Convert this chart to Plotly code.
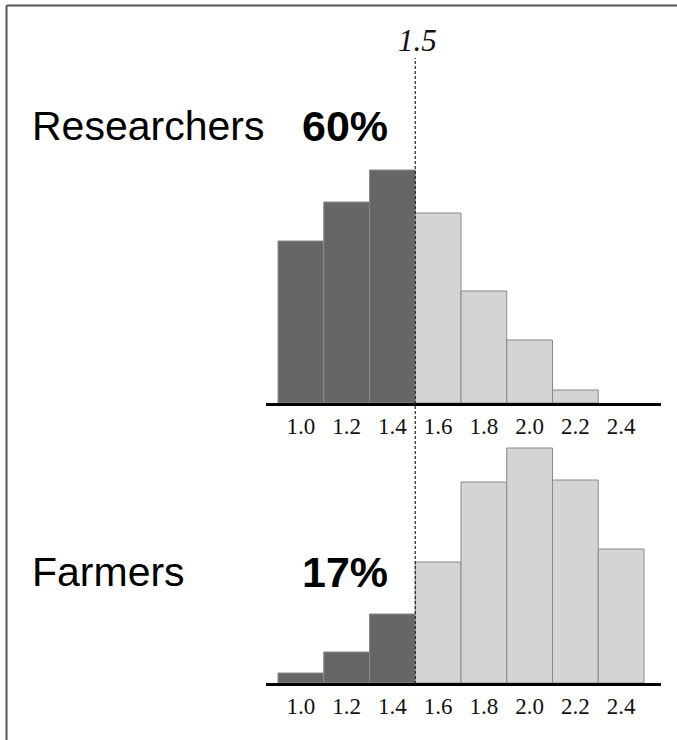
import plotly.graph_objects as go

# ---- data ----
bin_centers = [1.0, 1.2, 1.4, 1.6, 1.8, 2.0, 2.2, 2.4]
tick_labels = ["1.0", "1.2", "1.4", "1.6", "1.8", "2.0", "2.2", "2.4"]
researchers = [16.2, 20.1, 23.3, 19.0, 11.2, 6.3, 1.3, 0.0]
farmers = [1.0, 3.1, 6.9, 12.1, 20.1, 23.5, 20.3, 13.4]
threshold = 1.5
groups = ["Researchers", "Farmers"]
shares = ["60%", "17%"]

W, H = 677, 740
DARK = "#666666"
LIGHT = "#d4d4d4"
EDGE = "#8a8a8a"


def px_x(p):
    return p / W


def px_y(p):
    return 1 - p / H


fig = go.Figure()

for i, vals in enumerate([researchers, farmers]):
    colors = [DARK if c < threshold else LIGHT for c in bin_centers]
    edge_w = [0 if v == 0 else 1 for v in vals]
    fig.add_trace(go.Bar(
        x=bin_centers, y=vals, width=0.2,
        marker=dict(color=colors, line=dict(color=EDGE, width=edge_w)),
        xaxis="x" if i == 0 else "x2", yaxis="y" if i == 0 else "y2",
        showlegend=False, hoverinfo="skip",
    ))

xr = [0.9 - 12 / 228.75, 2.5 + 17 / 228.75]
xdom = [px_x(266), px_x(661)]
axis_common = dict(
    range=xr, domain=xdom, showline=True, linewidth=3, linecolor="black",
    showgrid=False, zeroline=False, ticks="", tickmode="array",
    tickvals=bin_centers, ticktext=tick_labels,
    tickfont=dict(family="Liberation Serif", size=23, color="#111"),
    ticklabelstandoff=0, fixedrange=True,
)
yaxis_common = dict(range=[0, 25], showline=False, showgrid=False,
                    zeroline=False, showticklabels=False, fixedrange=True)

fig.update_layout(
    width=W, height=H, margin=dict(l=0, r=0, t=0, b=0),
    paper_bgcolor="white", plot_bgcolor="white", bargap=0,
    xaxis=dict(anchor="y", **axis_common),
    yaxis=dict(domain=[px_y(403), px_y(153)], **yaxis_common),
    xaxis2=dict(anchor="y2", **axis_common),
    yaxis2=dict(domain=[px_y(683), px_y(433)], **yaxis_common),
)

# dashed threshold line
fig.add_shape(type="line", xref="x", yref="paper", x0=threshold, x1=threshold,
              y0=px_y(684), y1=px_y(58),
              line=dict(color="#222", width=1.2, dash="3px,2px"), layer="above")

# threshold label
fig.add_annotation(x=threshold + 0.01, xref="x", y=px_y(40), yref="paper",
                   text="1.5", showarrow=False, xanchor="center", yanchor="middle",
                   font=dict(family="Liberation Serif", size=31, color="#111",
                             style="italic"))

# group labels and shares
label_y = [126, 572]
for g, s, yy in zip(groups, shares, label_y):
    fig.add_annotation(x=px_x(30), xref="paper", y=px_y(yy), yref="paper",
                       text=g, showarrow=False, xanchor="left", yanchor="middle",
                       font=dict(family="Liberation Sans", size=41, color="black"))
    fig.add_annotation(x=px_x(345), xref="paper", y=px_y(yy), yref="paper",
                       text="<b>" + s + "</b>", showarrow=False, xanchor="center",
                       yanchor="middle",
                       font=dict(family="Liberation Sans", size=43, color="black"))

# frame (left and top edges)
fig.add_shape(type="line", xref="paper", yref="paper", x0=px_x(6.5), x1=px_x(6.5),
              y0=0, y1=px_y(5.5), line=dict(color="#555", width=2))
fig.add_shape(type="line", xref="paper", yref="paper", x0=px_x(6.5), x1=1,
              y0=px_y(5.5), y1=px_y(5.5), line=dict(color="#555", width=2))

fig.write_html(
    "out.html",
    config={"displayModeBar": False, "staticPlot": True},
    post_script=("document.body.style.margin='0';"
                 "document.body.style.overflow='hidden';"
                 "document.documentElement.style.overflow='hidden';"),
)
